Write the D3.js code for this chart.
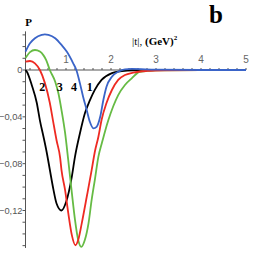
<!DOCTYPE html>
<html><head><meta charset="utf-8">
<script src="https://cdn.jsdelivr.net/npm/d3@7"></script>
<style>html,body{margin:0;padding:0;background:#fff;}svg{display:block;}</style>
</head><body>
<svg id="chart" width="273" height="278"></svg>
<script>
// ---- data ----
const xTickValues = [1, 2, 3, 4, 5];
const yTickValues = [0, -0.04, -0.08, -0.12];
const curveLabels = [
  {text: "2", t: 0.47},
  {text: "3", t: 0.86},
  {text: "4", t: 1.18},
  {text: "1", t: 1.53}
];

const tBlack = [0.1, 0.13, 0.24, 0.35, 0.42, 0.5, 0.57, 0.64, 0.72, 0.79, 0.9, 1.0, 1.13, 1.2, 1.31, 1.42, 1.53, 1.64, 1.79, 2.02, 2.24, 2.5, 3, 4, 5];
const vBlack = [0, -0.0015, -0.013, -0.028, -0.043, -0.057, -0.070, -0.085, -0.102, -0.114, -0.120, -0.113, -0.091, -0.074, -0.054, -0.037, -0.026, -0.017, -0.0085, -0.0026, -0.0009, -0.0002, 0, 0, 0];

const tRed = [0.1, 0.2, 0.31, 0.42, 0.53, 0.64, 0.71, 0.79, 0.87, 0.9, 0.98, 1.05, 1.13, 1.21, 1.28, 1.35, 1.46, 1.57, 1.64, 1.72, 1.79, 1.9, 2.02, 2.16, 2.31, 2.49, 2.8, 3.2, 4, 5];
const vRed = [0.0071, 0.0077, 0.0057, 0, -0.011, -0.028, -0.043, -0.060, -0.075, -0.0855, -0.1026, -0.122, -0.141, -0.1497, -0.144, -0.131, -0.1085, -0.0855, -0.070, -0.057, -0.0427, -0.0282, -0.0171, -0.0085, -0.0043, -0.0023, -0.0008, -0.0002, 0, 0];

const tGreen = [0.1, 0.2, 0.31, 0.42, 0.5, 0.56, 0.64, 0.76, 0.83, 0.9, 0.98, 1.05, 1.13, 1.2, 1.27, 1.34, 1.42, 1.5, 1.57, 1.64, 1.72, 1.8, 1.87, 1.94, 2.05, 2.16, 2.31, 2.46, 2.64, 3, 4, 5];
const vGreen = [0.0103, 0.0153, 0.0171, 0.0158, 0.0125, 0.0085, 0, -0.010, -0.0197, -0.0342, -0.0538, -0.077, -0.105, -0.128, -0.145, -0.151, -0.145, -0.131, -0.111, -0.094, -0.074, -0.062, -0.052, -0.043, -0.031, -0.0214, -0.0128, -0.0071, -0.0015, -0.0003, 0, 0];

const tBlue = [0.1, 0.2, 0.31, 0.46, 0.53, 0.61, 0.76, 0.9, 1.02, 1.16, 1.23, 1.31, 1.38, 1.46, 1.53, 1.61, 1.68, 1.76, 1.83, 1.9, 2.02, 2.16, 2.31, 2.46, 3, 4, 5];
const vBlue = [0.0157, 0.0228, 0.0271, 0.0300, 0.0305, 0.0300, 0.0271, 0.0214, 0.0155, 0.0057, 0, -0.0114, -0.0228, -0.0342, -0.0442, -0.0498, -0.0485, -0.040, -0.0256, -0.0143, -0.0057, -0.0015, 0.0006, 0.0009, 0.0003, 0, 0];

const series = [
  {name: "black", color: "#000000", t: tBlack, v: vBlack},
  {name: "green", color: "#66bb44", t: tGreen, v: vGreen},
  {name: "red", color: "#ee2a22", t: tRed, v: vRed},
  {name: "blue", color: "#3a64c8", t: tBlue, v: vBlue}
];

// ---- drawing ----
const svg = d3.select("#chart");
const x = d3.scaleLinear().domain([0, 5]).range([21, 246]);
const y = d3.scaleLinear().domain([0, -0.12]).range([70, 210.5]);
const tMin = 0.1, vTop = 0.033, vBottom = -0.152;
const axisColor = "#555";

// y axis
const yAxisG = svg.append("g").attr("transform", `translate(${x(tMin)},0)`);
yAxisG.append("line").attr("x1", 0).attr("x2", 0).attr("y1", y(vTop)).attr("y2", y(vBottom))
  .attr("stroke", axisColor).attr("stroke-width", 1);
const yMinor = d3.range(3, -16, -1).map(d => d / 100);
yAxisG.selectAll("line.minor").data(yMinor).join("line").attr("class", "minor")
  .attr("x1", -3).attr("x2", 0).attr("y1", d => y(d)).attr("y2", d => y(d))
  .attr("stroke", axisColor).attr("stroke-width", 1);
yAxisG.selectAll("text").data(yTickValues).join("text")
  .attr("x", -3).attr("y", d => y(d)).attr("dy", "0.35em")
  .attr("text-anchor", "end").attr("font-family", "Liberation Sans, Arial, sans-serif")
  .attr("font-size", 9.3).attr("fill", "#555")
  .text(d => d === 0 ? "0" : d3.format(".2f")(d).replace(".", ","));

// x axis
const xAxisG = svg.append("g").attr("transform", `translate(0,${y(0)})`);
xAxisG.append("line").attr("x1", x(tMin)).attr("x2", x(5)).attr("y1", 0).attr("y2", 0)
  .attr("stroke", axisColor).attr("stroke-width", 1);
const xMinor = d3.range(1, 26).map(d => d / 5);
xAxisG.selectAll("line.minor").data(xMinor).join("line").attr("class", "minor")
  .attr("x1", d => x(d)).attr("x2", d => x(d)).attr("y1", -2).attr("y2", 0)
  .attr("stroke", axisColor).attr("stroke-width", 1);
xAxisG.selectAll("text").data(xTickValues).join("text")
  .attr("x", d => x(d)).attr("y", -7)
  .attr("text-anchor", "middle").attr("font-family", "Liberation Sans, Arial, sans-serif")
  .attr("font-size", 10).attr("fill", "#666")
  .text(d => d);

// curves
const line = d3.line().x(d => x(d[0])).y(d => y(d[1])).curve(d3.curveMonotoneX);
svg.selectAll("path.curve").data(series).join("path").attr("class", "curve")
  .attr("d", s => line(s.t.map((t, i) => [t, s.v[i]])))
  .attr("fill", "none").attr("stroke", s => s.color).attr("stroke-width", 1.8)
  .attr("stroke-linejoin", "round");

// curve labels
svg.selectAll("text.clabel").data(curveLabels).join("text").attr("class", "clabel")
  .attr("x", d => x(d.t)).attr("y", 91).attr("text-anchor", "middle")
  .attr("font-family", "Liberation Serif, Times New Roman, serif").attr("font-weight", "bold")
  .attr("font-size", 12).attr("fill", "#000").text(d => d.text);

// axis titles
svg.append("text").attr("x", 28.5).attr("y", 26).attr("text-anchor", "middle")
  .attr("font-family", "Liberation Serif, serif").attr("font-weight", "bold")
  .attr("font-size", 11).text("P");
const xt = svg.append("text").attr("x", 132).attr("y", 45)
  .attr("font-family", "Liberation Serif, serif").attr("font-size", 11);
xt.append("tspan").text("|t|,  ");
xt.append("tspan").attr("font-weight", "bold").text("(GeV)");
xt.append("tspan").attr("font-weight", "bold").attr("font-size", 7).attr("dy", -5).text("2");

svg.append("text").attr("x", 216).attr("y", 23).attr("text-anchor", "middle")
  .attr("font-family", "Liberation Serif, serif").attr("font-weight", "bold")
  .attr("font-size", 25).text("b");
</script>
</body></html>
